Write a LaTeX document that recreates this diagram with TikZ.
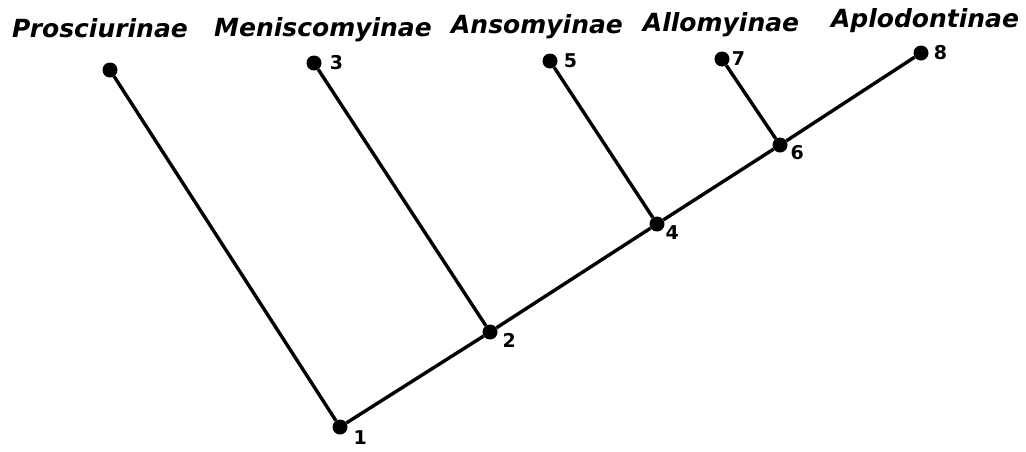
\documentclass[tikz,border=0pt]{standalone}
\usepackage{fontspec}
\setsansfont{DejaVu Sans}
\usetikzlibrary{positioning}
\tikzset{
  taxon/.style={font=\sffamily\bfseries\itshape\fontsize{25}{30}\selectfont, anchor=base, inner sep=0pt},
  knot/.style={circle, fill=black, inner sep=0pt, minimum size=15pt},
  tag/.style={font=\sffamily\bfseries\fontsize{19}{22}\selectfont, inner sep=0pt},
  branch/.style={line width=3.4pt}
}

\begin{document}
\begin{tikzpicture}[x=1pt, y=-1pt]
  \useasboundingbox (0,0) rectangle (1026,451);
  % taxon names
  \node[taxon] (prosc) at (100,37) {Prosciurinae};
  \node[taxon] (menis) at (323,36) {Meniscomyinae};
  \node[taxon] (ansom) at (537,33) {Ansomyinae};
  \node[taxon] (allom) at (721,31) {Allomyinae};
  \node[taxon] (aplod) at (925,27) {Aplodontinae};
  % tips
  \node[knot] (tip0) at (110,70) {};
  \node[knot] (tip3) at (314,63) {};
  \node[knot] (tip5) at (550,61) {};
  \node[knot] (tip7) at (722,59) {};
  \node[knot] (tip8) at (921,53) {};
  % branching points
  \node[knot] (fork1) at (340,427) {};
  \node[knot] (fork2) at (490,332) {};
  \node[knot] (fork4) at (657,224) {};
  \node[knot] (fork6) at (780,145) {};
  % numbers
  \node[tag, right=8pt of tip3] {3};
  \node[tag, right=6pt of tip5] {5};
  \node[tag, right=2pt of tip7] {7};
  \node[tag, right=5pt of tip8] {8};
  \node[tag, below right=-2pt and 8pt of fork1] {1};
  \node[tag, below right=-4pt and 7pt of fork2] {2};
  \node[tag, below right=-4pt and 3pt of fork4] {4};
  \node[tag, below right=-5pt and 5pt of fork6] {6};
  % branches
  \draw[branch] (fork1) -- (tip0);
  \draw[branch] (fork1) -- (fork2) -- (fork4) -- (fork6) -- (tip8);
  \draw[branch] (fork2) -- (tip3);
  \draw[branch] (fork4) -- (tip5);
  \draw[branch] (fork6) -- (tip7);
\end{tikzpicture}
\end{document}
